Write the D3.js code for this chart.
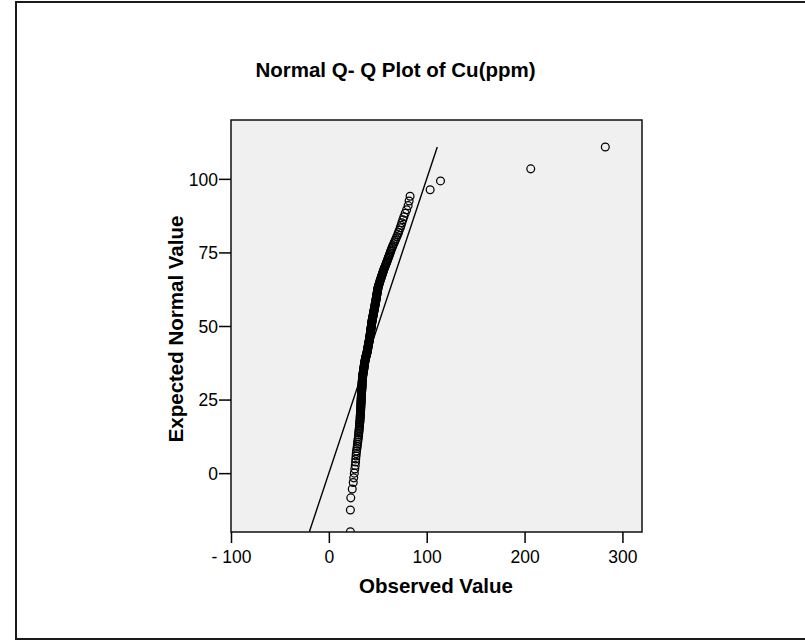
<!DOCTYPE html>
<html><head><meta charset="utf-8">
<script src="https://cdn.jsdelivr.net/npm/d3@7"></script>
<style>html,body{margin:0;padding:0;background:#fff;} svg{display:block;}</style>
</head><body>
<svg id="chart" width="805" height="640"></svg>
<script>
const title = "Normal Q- Q Plot of Cu(ppm)";
const xTitle = "Observed Value";
const yTitle = "Expected Normal Value";
const xTicks = [-100, 0, 100, 200, 300];
const xTickLabels = ["- 100", "0", "100", "200", "300"];
const yTicks = [0, 25, 50, 75, 100];
const yTickLabels = ["0", "25", "50", "75", "100"];
const xDomain = [-100, 320];
const yDomain = [-20, 120];
const refLine = [-19.9, 110.8];

const observed = [
22, 22, 22.4, 23.9, 24.9, 25.4, 26, 26.5, 27, 27.3,
27.5, 27.8, 28, 28.3, 28.7, 29, 29.2, 29.5, 29.7, 30,
30.2, 30.4, 30.6, 30.7, 30.9, 31, 31.2, 31.3, 31.4, 31.6,
31.7, 31.8, 31.9, 32, 32, 32.1, 32.2, 32.3, 32.4, 32.5,
32.5, 32.6, 32.6, 32.7, 32.7, 32.8, 32.8, 32.9, 32.9, 33,
33, 33, 33.1, 33.1, 33.2, 33.3, 33.3, 33.4, 33.4, 33.5,
33.6, 33.6, 33.7, 33.7, 33.8, 33.8, 33.9, 33.9, 33.9, 34,
34, 34, 34.1, 34.2, 34.2, 34.3, 34.4, 34.5, 34.5, 34.6,
34.7, 34.8, 34.9, 35, 35.1, 35.3, 35.4, 35.5, 35.6, 35.7,
35.8, 35.9, 36, 36, 36.2, 36.3, 36.4, 36.5, 36.6, 36.7,
36.8, 36.9, 37.1, 37.2, 37.4, 37.5, 37.7, 37.8, 38, 38.1,
38.3, 38.5, 38.7, 38.9, 39, 39.1, 39.3, 39.4, 39.5, 39.6,
39.7, 39.9, 40, 40.1, 40.2, 40.3, 40.5, 40.6, 40.7, 40.8,
40.9, 41.1, 41.2, 41.3, 41.4,
41.5, 41.6, 41.7, 41.8, 41.9, 42.0, 42.1, 42.2, 42.3, 42.4,
42.5, 42.6, 42.6, 42.7, 42.8, 42.9, 43.0, 43.1, 43.2, 43.3,
43.4, 43.5, 43.6, 43.6, 43.7, 43.8, 43.9, 44.0, 44.1, 44.2,
44.3, 44.5, 44.6, 44.8, 44.9, 45.0, 45.1, 45.3, 45.4, 45.5,
45.6, 45.8, 45.9, 46.0, 46.2, 46.3, 46.4, 46.6, 46.7, 46.8,
47.0, 47.1, 47.2, 47.4, 47.5, 47.6, 47.8, 47.9, 48.1, 48.2,
48.3, 48.4, 48.6, 48.7, 48.8, 49.0, 49.1, 49.2, 49.4, 49.5,
49.6, 49.8, 49.9, 50.1, 50.2, 50.4, 50.6, 50.9, 51.2, 51.5,
51.8, 52.1, 52.4, 52.7, 53.0, 53.3, 53.6, 53.9, 54.3, 54.6,
54.9, 55.3, 55.6, 56.0, 56.3, 56.8, 57.3, 57.7, 58.2, 58.7,
59.1, 59.6, 60.0, 60.6, 61.0, 61.5, 62.0, 62.6, 63.1, 63.7,
64.2, 64.8, 65.4, 66.2, 67.0, 67.8, 68.6, 69.5, 70.4, 71.2,
71.9, 73.0, 73.8, 74.6, 75.6, 76.7, 78.0, 79.5, 81.0, 82.0,
83.0, 103.5, 114.1, 206.3, 282.5
];

const expected = [
-19.9, -12.5, -8.4, -5.4, -3.2, -1.6, 0, 1.4, 2.6, 3.8,
4.8, 5.8, 6.7, 7.5, 8.4, 9.1, 9.8, 10.5, 11.2, 11.8,
12.4, 13, 13.6, 14.1, 14.6, 15.1, 15.6, 16.1, 16.6, 17.1,
17.5, 17.9, 18.4, 18.8, 19.2, 19.6, 20, 20.4, 20.8, 21.2,
21.6, 21.9, 22.3, 22.6, 23, 23.3, 23.6, 24, 24.3, 24.6,
24.9, 25.2, 25.5, 25.8, 26.2, 26.5, 26.8, 27.1, 27.4, 27.7,
28, 28.2, 28.5, 28.8, 29.1, 29.3, 29.6, 29.9, 30.1, 30.4,
30.7, 30.9, 31.2, 31.5, 31.7, 32, 32.2, 32.5, 32.7, 33,
33.2, 33.5, 33.7, 34, 34.2, 34.5, 34.7, 34.9, 35.2, 35.4,
35.6, 35.9, 36.1, 36.3, 36.6, 36.8, 37, 37.2, 37.5, 37.7,
37.9, 38.1, 38.4, 38.6, 38.8, 39, 39.3, 39.5, 39.7, 39.9,
40.1, 40.4, 40.6, 40.8, 41, 41.2, 41.5, 41.7, 41.9, 42.1,
42.3, 42.5, 42.8, 43, 43.2, 43.4, 43.6, 43.8, 44.1, 44.3,
44.5, 44.7, 44.9, 45.1, 45.3,
45.6, 45.8, 46.0, 46.2, 46.4, 46.6, 46.8, 47.1, 47.3, 47.5,
47.7, 47.9, 48.1, 48.4, 48.6, 48.8, 49.0, 49.2, 49.4, 49.7,
49.9, 50.1, 50.3, 50.5, 50.8, 51.0, 51.2, 51.4, 51.6, 51.9,
52.1, 52.3, 52.5, 52.8, 53.0, 53.2, 53.4, 53.7, 53.9, 54.1,
54.3, 54.6, 54.8, 55.0, 55.3, 55.5, 55.7, 56.0, 56.2, 56.4,
56.7, 56.9, 57.2, 57.4, 57.7, 57.9, 58.2, 58.4, 58.7, 58.9,
59.2, 59.4, 59.7, 60.0, 60.2, 60.5, 60.8, 61.0, 61.3, 61.6,
61.8, 62.1, 62.4, 62.7, 62.9, 63.2, 63.5, 63.8, 64.1, 64.4,
64.7, 65.1, 65.4, 65.7, 66.0, 66.3, 66.6, 66.9, 67.3, 67.6,
67.9, 68.3, 68.6, 69.0, 69.3, 69.7, 70.1, 70.5, 70.9, 71.3,
71.7, 72.1, 72.5, 73.0, 73.4, 73.8, 74.3, 74.8, 75.3, 75.8,
76.3, 76.8, 77.3, 77.9, 78.5, 79.1, 79.7, 80.4, 81.1, 81.8,
82.5, 83.4, 84.2, 85.1, 86.1, 87.1, 88.3, 89.5, 90.9, 92.5,
94.1, 96.3, 99.3, 103.4, 110.8
];

const FONT = "'Liberation Sans', Arial, Helvetica, sans-serif";
const svg = d3.select("#chart");

// outer frame
svg.append("rect")
  .attr("x", 16).attr("y", 2).attr("width", 800).attr("height", 637)
  .attr("fill", "#fff").attr("stroke", "#1a1a1a").attr("stroke-width", 2);

const plot = {left: 231, right: 642, top: 120, bottom: 532};
const x = d3.scaleLinear().domain(xDomain).range([plot.left, plot.right]);
const y = d3.scaleLinear().domain(yDomain).range([plot.bottom, plot.top]);

svg.append("rect")
  .attr("x", plot.left).attr("y", plot.top)
  .attr("width", plot.right - plot.left).attr("height", plot.bottom - plot.top)
  .attr("fill", "#f0f0f0");

svg.append("clipPath").attr("id", "clip")
  .append("rect")
  .attr("x", plot.left).attr("y", plot.top)
  .attr("width", plot.right - plot.left).attr("height", plot.bottom - plot.top);

const g = svg.append("g").attr("clip-path", "url(#clip)");

// reference line y = x
g.append("line")
  .attr("x1", x(refLine[0])).attr("y1", y(refLine[0]))
  .attr("x2", x(refLine[1])).attr("y2", y(refLine[1]))
  .attr("stroke", "#000").attr("stroke-width", 1.4);

const pts = observed.map((v, i) => ({o: v, e: expected[i]}));
g.selectAll("circle.pt").data(pts).enter().append("circle")
  .attr("class", "pt")
  .attr("cx", d => x(d.o)).attr("cy", d => y(d.e))
  .attr("r", 3.9)
  .attr("fill", "none").attr("stroke", "#000").attr("stroke-width", 1.25);

// plot border
svg.append("rect")
  .attr("x", plot.left).attr("y", plot.top)
  .attr("width", plot.right - plot.left).attr("height", plot.bottom - plot.top)
  .attr("fill", "none").attr("stroke", "#111").attr("stroke-width", 1.5);

// axes
const xAxis = svg.append("g").attr("transform", `translate(0,${plot.bottom})`)
  .call(d3.axisBottom(x).tickValues(xTicks).tickFormat((d, i) => xTickLabels[i]).tickSize(11));
xAxis.select(".domain").remove();
xAxis.selectAll(".tick line").attr("stroke", "#000").attr("stroke-width", 1.5);
xAxis.selectAll(".tick text").attr("y", 31).attr("dy", 0)
  .attr("font-family", FONT).attr("font-size", 17.5).attr("fill", "#000");

const yAxis = svg.append("g").attr("transform", `translate(${plot.left},0)`)
  .call(d3.axisLeft(y).tickValues(yTicks).tickFormat((d, i) => yTickLabels[i]).tickSize(12));
yAxis.select(".domain").remove();
yAxis.selectAll(".tick line").attr("stroke", "#000").attr("stroke-width", 1.5);
yAxis.selectAll(".tick text").attr("x", -13).attr("dy", "0.36em")
  .attr("font-family", FONT).attr("font-size", 17.5).attr("fill", "#000");

// titles
svg.append("text").attr("x", 395.5).attr("y", 77)
  .attr("text-anchor", "middle").attr("font-family", FONT)
  .attr("font-weight", "bold").attr("font-size", 20.5).attr("fill", "#000")
  .text(title);

svg.append("text").attr("x", 436).attr("y", 593)
  .attr("text-anchor", "middle").attr("font-family", FONT)
  .attr("font-weight", "bold").attr("font-size", 20.5).attr("fill", "#000")
  .text(xTitle);

svg.append("text").attr("transform", "translate(183,329) rotate(-90)")
  .attr("text-anchor", "middle").attr("font-family", FONT)
  .attr("font-weight", "bold").attr("font-size", 20.5).attr("fill", "#000")
  .text(yTitle);
</script>
</body></html>
